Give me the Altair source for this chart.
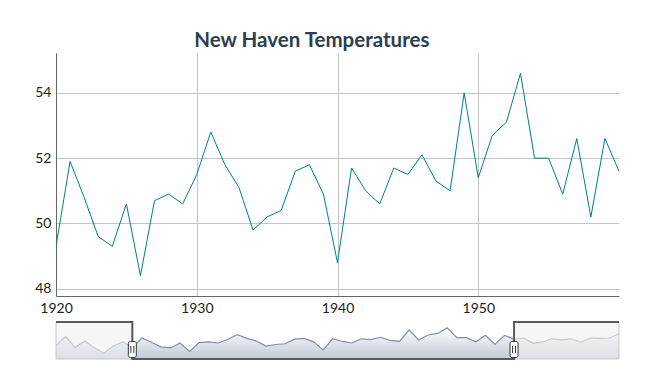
import altair as alt
import pandas as pd

# New Haven yearly mean temperatures (deg F)
years = list(range(1912, 1972))
temps = [49.9, 52.3, 49.4, 51.1, 49.4, 47.9, 49.8, 50.9, 49.3, 51.9,
         50.8, 49.6, 49.3, 50.6, 48.4, 50.7, 50.9, 50.6, 51.5, 52.8,
         51.8, 51.1, 49.8, 50.2, 50.4, 51.6, 51.8, 50.9, 48.8, 51.7,
         51.0, 50.6, 51.7, 51.5, 52.1, 51.3, 51.0, 54.0, 51.4, 52.7,
         53.1, 54.6, 52.0, 52.0, 50.9, 52.6, 50.2, 52.6, 51.6, 51.9,
         50.5, 50.9, 51.7, 51.4, 51.7, 50.8, 51.9, 51.8, 51.9, 53.0]

window = [1920, 1960]
x_ticks = [1920, 1930, 1940, 1950]
y_ticks = [48, 50, 52, 54]
main_y_domain = [47.78, 55.22]
nav_y_domain = [46.4, 56.1]

df = pd.DataFrame({"year": years, "temp": temps})
df_main = df[(df.year >= window[0]) & (df.year <= window[1])]

FONT = "Lato"

main = alt.Chart(df_main).mark_line(color="#008080", strokeWidth=1, clip=True).encode(
    x=alt.X("year:Q",
            scale=alt.Scale(domain=window, nice=False, zero=False),
            axis=alt.Axis(values=x_ticks, format="d", title=None, tickSize=0,
                          labelPadding=5, grid=True, gridColor="#c4c4c4",
                          domainColor="#666", labelFont=FONT, labelFontSize=14,
                          labelColor="#222", labelFlush=False)),
    y=alt.Y("temp:Q",
            scale=alt.Scale(domain=main_y_domain, nice=False, zero=False),
            axis=alt.Axis(values=y_ticks, title=None, tickSize=0, labelPadding=5,
                          grid=True, gridColor="#c4c4c4", domainColor="#666",
                          labelFont=FONT, labelFontSize=14, labelColor="#222")),
).properties(width=563, height=243)

# Navigator (range selector)
nav_x = alt.X("year:Q", scale=alt.Scale(domain=[years[0], years[-1]], nice=False, zero=False), axis=None)
nav_y_scale = alt.Scale(domain=nav_y_domain, nice=False, zero=False)

area = alt.Chart(df).mark_area(
    line={"color": "#808FAB", "strokeWidth": 1.2},
    color=alt.Gradient(gradient="linear",
                       stops=[alt.GradientStop(color="#ffffff", offset=0),
                              alt.GradientStop(color="#A7B1C4", offset=1)],
                       x1=1, x2=1, y1=0, y2=1),
).encode(
    x=nav_x,
    y=alt.Y("temp:Q", scale=nav_y_scale, axis=None),
    y2=alt.datum(nav_y_domain[0]),
)

shade_df = pd.DataFrame({
    "x0": [years[0], window[1]],
    "x1": [window[0], years[-1]],
    "y0": [nav_y_domain[0]] * 2,
    "y1": [nav_y_domain[1]] * 2,
})
shade = alt.Chart(shade_df).mark_rect(fill="rgb(240,240,240)", fillOpacity=0.6,
                                      stroke="#c8c8c8", strokeWidth=1).encode(
    x=alt.X("x0:Q", scale=alt.Scale(domain=[years[0], years[-1]], nice=False, zero=False), axis=None),
    x2="x1:Q",
    y=alt.Y("y0:Q", scale=nav_y_scale, axis=None),
    y2="y1:Q",
)

outline_df = pd.DataFrame({
    "order": list(range(6)),
    "x": [years[0], window[0], window[0], window[1], window[1], years[-1]],
    "y": [nav_y_domain[1], nav_y_domain[1], nav_y_domain[0], nav_y_domain[0],
          nav_y_domain[1], nav_y_domain[1]],
})
outline = alt.Chart(outline_df).mark_line(color="#5a5a5a", strokeWidth=2,
                                          strokeJoin="miter").encode(
    x=alt.X("x:Q", scale=alt.Scale(domain=[years[0], years[-1]], nice=False, zero=False), axis=None),
    y=alt.Y("y:Q", scale=nav_y_scale, axis=None),
    order="order:Q",
)

handle_df = pd.DataFrame({"x": window, "y": [48.9, 48.9], "ylo": [48.0, 48.0], "yhi": [49.8, 49.8]})
hx = alt.X("x:Q", scale=alt.Scale(domain=[years[0], years[-1]], nice=False, zero=False), axis=None)
handles = alt.Chart(handle_df).mark_rect(width=8, height=16, cornerRadius=2, fill="white",
                                         stroke="#333", strokeWidth=1).encode(
    x=hx, y=alt.Y("y:Q", scale=nav_y_scale, axis=None))
grip1 = alt.Chart(handle_df).mark_rule(color="#333", strokeWidth=1, xOffset=-1.5).encode(
    x=hx, y=alt.Y("ylo:Q", scale=nav_y_scale, axis=None), y2="yhi:Q")
grip2 = alt.Chart(handle_df).mark_rule(color="#333", strokeWidth=1, xOffset=1.5).encode(
    x=hx, y=alt.Y("ylo:Q", scale=nav_y_scale, axis=None), y2="yhi:Q")

nav = alt.layer(area, shade, outline, handles, grip1, grip2).properties(width=563, height=37)

chart = alt.vconcat(main, nav, spacing=26, bounds="flush").properties(
    title=alt.TitleParams("New Haven Temperatures", font=FONT, fontSize=20.5,
                          fontWeight="bold", color="#2c3e50", anchor="middle",
                          offset=2, dx=-17),
    padding={"left": 26, "top": 22, "right": 5, "bottom": 5},
).configure_view(stroke=None).configure_axis(domainWidth=1, gridWidth=1)

chart.save("out.html", embed_options={"renderer": "svg", "actions": False})
